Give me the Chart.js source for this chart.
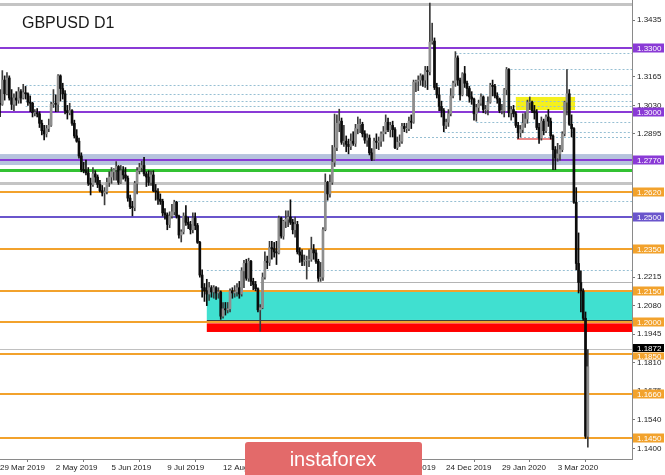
<!DOCTYPE html>
<html>
<head>
<meta charset="utf-8">
<title>GBPUSD D1</title>
<script src="https://cdn.jsdelivr.net/npm/chart.js@4"></script>
<style>
html,body{margin:0;padding:0;background:#fff;}
#wrap{width:665px;height:475px;}
</style>
</head>
<body>
<div id="wrap"><canvas id="myChart" width="665" height="475"></canvas></div>
<script>
'use strict';

// daily bars, 29 Mar 2019 .. 20 Mar 2020
let opens = [
  1.3040,1.3035,1.3150,1.3085,1.3160,1.3065,1.3035,1.3065,1.3055,1.3095,
  1.3065,1.3090,1.3085,1.3045,1.3040,1.2995,1.2995,1.2990,1.2945,1.2910,
  1.2895,1.2920,1.2935,1.3035,1.3040,1.3035,1.3170,1.3110,1.3085,1.3005,
  1.2995,1.3005,1.2945,1.2885,1.2860,1.2790,1.2725,1.2720,1.2710,1.2660,
  1.2655,1.2705,1.2690,1.2655,1.2625,1.2615,1.2620,1.2665,1.2690,1.2715,
  1.2725,1.2740,1.2665,1.2720,1.2700,1.2685,1.2590,1.2550,1.2545,1.2660,
  1.2720,1.2735,1.2745,1.2705,1.2690,1.2665,1.2700,1.2625,1.2620,1.2585,
  1.2575,1.2520,1.2510,1.2465,1.2505,1.2525,1.2570,1.2505,1.2415,1.2430,
  1.2505,1.2475,1.2465,1.2440,1.2495,1.2460,1.2380,1.2225,1.2165,1.2150,
  1.2135,1.2165,1.2145,1.2165,1.2140,1.2145,1.2030,1.2065,1.2060,1.2065,
  1.2150,1.2140,1.2145,1.2165,1.2135,1.2245,1.2280,1.2210,1.2290,1.2195,
  1.2180,1.2160,1.2060,1.2070,1.2215,1.2290,1.2285,1.2355,1.2350,1.2335,
  1.2330,1.2495,1.2410,1.2480,1.2490,1.2500,1.2475,1.2440,1.2465,1.2335,
  1.2320,1.2290,1.2295,1.2295,1.2300,1.2345,1.2330,1.2290,1.2210,1.2215,
  1.2440,1.2665,1.2610,1.2665,1.2760,1.2830,1.2945,1.2955,1.2855,1.2860,
  1.2845,1.2835,1.2860,1.2850,1.2920,1.2940,1.2940,1.2895,1.2865,1.2875,
  1.2805,1.2775,1.2860,1.2855,1.2860,1.2895,1.2905,1.2950,1.2915,1.2935,
  1.2915,1.2830,1.2855,1.2860,1.2930,1.2920,1.2920,1.2955,1.2950,1.3140,
  1.3145,1.3150,1.3170,1.3150,1.3195,1.3190,1.3330,1.3335,1.3115,1.3080,
  1.3025,1.3005,1.2935,1.2950,1.2990,1.3075,1.3135,1.3255,1.3150,1.3080,
  1.3180,1.3135,1.3110,1.3070,1.3060,1.2990,1.3020,1.3040,1.3070,1.3010,
  1.3010,1.3045,1.3125,1.3120,1.3075,1.3060,1.3005,1.3005,1.3105,1.3200,
  1.2995,1.3010,1.2990,1.2935,1.2900,1.2915,1.2945,1.2965,1.3045,1.3045,
  1.3005,1.2995,1.2925,1.2875,1.2955,1.2910,1.2975,1.2955,1.2885,1.2820,
  1.2780,1.2800,1.2820,1.2895,1.3045,1.3085,1.2940,1.2920,1.2570,1.2280,
  1.2190,1.2150,1.2020,1.1460
];
let highs = [
  1.3105,1.3195,1.3170,1.3185,1.3170,1.3105,1.3085,1.3095,1.3115,1.3105,
  1.3130,1.3120,1.3090,1.3075,1.3045,1.3010,1.3015,1.3000,1.2960,1.2935,
  1.2935,1.2965,1.3045,1.3105,1.3080,1.3176,1.3175,1.3135,1.3100,1.3030,
  1.3040,1.3010,1.2960,1.2915,1.2875,1.2805,1.2760,1.2770,1.2735,1.2685,
  1.2735,1.2720,1.2700,1.2675,1.2650,1.2640,1.2685,1.2715,1.2735,1.2730,
  1.2763,1.2745,1.2745,1.2740,1.2735,1.2695,1.2605,1.2575,1.2670,1.2735,
  1.2755,1.2765,1.2783,1.2715,1.2720,1.2720,1.2720,1.2655,1.2635,1.2610,
  1.2585,1.2540,1.2520,1.2525,1.2560,1.2580,1.2575,1.2510,1.2440,1.2520,
  1.2555,1.2500,1.2480,1.2520,1.2520,1.2470,1.2385,1.2250,1.2185,1.2205,
  1.2190,1.2175,1.2175,1.2170,1.2165,1.2150,1.2095,1.2095,1.2095,1.2160,
  1.2165,1.2175,1.2185,1.2195,1.2260,1.2295,1.2300,1.2305,1.2295,1.2210,
  1.2195,1.2165,1.2085,1.2235,1.2335,1.2315,1.2385,1.2385,1.2380,1.2385,
  1.2505,1.2500,1.2485,1.2530,1.2530,1.2582,1.2490,1.2500,1.2480,1.2355,
  1.2345,1.2320,1.2315,1.2345,1.2405,1.2370,1.2345,1.2300,1.2285,1.2450,
  1.2705,1.2670,1.2700,1.2840,1.2989,1.2985,1.3012,1.2970,1.2935,1.2885,
  1.2870,1.2895,1.2905,1.2940,1.2975,1.2965,1.2950,1.2910,1.2895,1.2890,
  1.2825,1.2875,1.2895,1.2880,1.2905,1.2930,1.2985,1.2970,1.2950,1.2955,
  1.2925,1.2880,1.2890,1.2945,1.2945,1.2945,1.2975,1.2985,1.3150,1.3150,
  1.3170,1.3180,1.3175,1.3215,1.3215,1.3515,1.3420,1.3350,1.3135,1.3115,
  1.3050,1.3015,1.2965,1.3010,1.3110,1.3145,1.3285,1.3265,1.3160,1.3185,
  1.3215,1.3145,1.3120,1.3095,1.3065,1.3035,1.3055,1.3085,1.3075,1.3030,
  1.3070,1.3135,1.3150,1.3130,1.3090,1.3065,1.3035,1.3110,1.3210,1.3205,
  1.3025,1.3030,1.3000,1.2950,1.2935,1.2990,1.2995,1.3055,1.3070,1.3050,
  1.3030,1.3010,1.2945,1.2975,1.2965,1.2985,1.3010,1.2970,1.2890,1.2835,
  1.2850,1.2840,1.2905,1.3050,1.3200,1.3105,1.2985,1.2925,1.2640,1.2425,
  1.2245,1.2160,1.2050,1.1872
];
let lows = [
  1.2977,1.3030,1.3055,1.3080,1.3055,1.3010,1.3005,1.3030,1.3040,1.3040,
  1.3060,1.3060,1.3030,1.3000,1.2975,1.2980,1.2975,1.2925,1.2890,1.2866,
  1.2880,1.2905,1.2930,1.3020,1.3000,1.3000,1.3050,1.3060,1.2990,1.2965,
  1.2985,1.2935,1.2875,1.2855,1.2780,1.2715,1.2710,1.2700,1.2650,1.2605,
  1.2645,1.2665,1.2640,1.2620,1.2600,1.2558,1.2610,1.2645,1.2660,1.2675,
  1.2675,1.2655,1.2660,1.2680,1.2670,1.2575,1.2540,1.2506,1.2530,1.2610,
  1.2705,1.2715,1.2695,1.2645,1.2650,1.2650,1.2620,1.2580,1.2560,1.2560,
  1.2505,1.2490,1.2440,1.2450,1.2495,1.2510,1.2495,1.2400,1.2382,1.2420,
  1.2460,1.2445,1.2420,1.2425,1.2440,1.2375,1.2215,1.2120,1.2100,1.2080,
  1.2105,1.2120,1.2115,1.2110,1.2115,1.2015,1.2020,1.2035,1.2045,1.2050,
  1.2115,1.2120,1.2125,1.2115,1.2125,1.2165,1.2200,1.2195,1.2175,1.2155,
  1.2150,1.2050,1.1959,1.2065,1.2205,1.2255,1.2270,1.2300,1.2310,1.2275,
  1.2325,1.2400,1.2395,1.2450,1.2455,1.2465,1.2420,1.2405,1.2325,1.2285,
  1.2270,1.2270,1.2206,1.2265,1.2290,1.2300,1.2280,1.2195,1.2195,1.2200,
  1.2435,1.2580,1.2595,1.2655,1.2740,1.2815,1.2905,1.2845,1.2835,1.2810,
  1.2800,1.2820,1.2840,1.2835,1.2895,1.2900,1.2880,1.2850,1.2835,1.2795,
  1.2768,1.2770,1.2825,1.2820,1.2835,1.2860,1.2895,1.2905,1.2880,1.2880,
  1.2825,1.2820,1.2835,1.2850,1.2905,1.2900,1.2910,1.2920,1.2945,1.3095,
  1.3100,1.3125,1.3120,1.3115,1.3105,1.3175,1.3320,1.3105,1.3065,1.3005,
  1.2975,1.2905,1.2920,1.2930,1.2980,1.3065,1.3120,1.3125,1.3055,1.3075,
  1.3115,1.3075,1.3045,1.3035,1.2960,1.2955,1.3000,1.3030,1.2995,1.2990,
  1.2985,1.3040,1.3075,1.3065,1.3040,1.2995,1.2990,1.2975,1.3080,1.2975,
  1.2960,1.2975,1.2925,1.2873,1.2880,1.2900,1.2925,1.2945,1.3010,1.2995,
  1.2965,1.2915,1.2850,1.2865,1.2890,1.2900,1.2930,1.2870,1.2725,1.2725,
  1.2765,1.2770,1.2810,1.2885,1.2985,1.2935,1.2880,1.2565,1.2250,1.2140,
  1.2050,1.2010,1.1450,1.1409
];
let closes = [
  1.3035,1.3150,1.3085,1.3160,1.3065,1.3035,1.3065,1.3055,1.3095,1.3065,
  1.3090,1.3085,1.3045,1.3040,1.2995,1.2995,1.2990,1.2945,1.2910,1.2895,
  1.2920,1.2935,1.3035,1.3040,1.3035,1.3170,1.3110,1.3085,1.3005,1.2995,
  1.3005,1.2945,1.2885,1.2860,1.2790,1.2725,1.2720,1.2710,1.2660,1.2655,
  1.2705,1.2690,1.2655,1.2625,1.2615,1.2620,1.2665,1.2690,1.2715,1.2725,
  1.2740,1.2665,1.2720,1.2700,1.2685,1.2590,1.2550,1.2545,1.2660,1.2720,
  1.2735,1.2745,1.2705,1.2690,1.2665,1.2700,1.2625,1.2620,1.2585,1.2575,
  1.2520,1.2510,1.2465,1.2505,1.2525,1.2570,1.2505,1.2415,1.2430,1.2505,
  1.2475,1.2465,1.2440,1.2495,1.2460,1.2380,1.2225,1.2165,1.2150,1.2135,
  1.2165,1.2145,1.2165,1.2140,1.2145,1.2030,1.2065,1.2060,1.2065,1.2150,
  1.2140,1.2145,1.2165,1.2135,1.2245,1.2280,1.2210,1.2290,1.2195,1.2180,
  1.2160,1.2060,1.2070,1.2215,1.2290,1.2285,1.2355,1.2350,1.2335,1.2330,
  1.2495,1.2410,1.2480,1.2490,1.2500,1.2475,1.2440,1.2465,1.2335,1.2320,
  1.2290,1.2295,1.2295,1.2300,1.2345,1.2330,1.2290,1.2210,1.2215,1.2440,
  1.2665,1.2610,1.2665,1.2760,1.2830,1.2945,1.2955,1.2855,1.2860,1.2845,
  1.2835,1.2860,1.2850,1.2920,1.2940,1.2940,1.2895,1.2865,1.2875,1.2805,
  1.2775,1.2860,1.2855,1.2860,1.2895,1.2905,1.2950,1.2915,1.2935,1.2915,
  1.2830,1.2855,1.2860,1.2930,1.2920,1.2920,1.2955,1.2950,1.3140,1.3145,
  1.3150,1.3170,1.3150,1.3195,1.3190,1.3330,1.3335,1.3115,1.3080,1.3025,
  1.3005,1.2935,1.2950,1.2990,1.3075,1.3135,1.3255,1.3150,1.3080,1.3180,
  1.3135,1.3110,1.3070,1.3060,1.2990,1.3020,1.3040,1.3070,1.3010,1.3010,
  1.3045,1.3125,1.3120,1.3075,1.3060,1.3005,1.3005,1.3105,1.3200,1.2995,
  1.3010,1.2990,1.2935,1.2900,1.2915,1.2945,1.2965,1.3045,1.3045,1.3005,
  1.2995,1.2925,1.2875,1.2955,1.2910,1.2975,1.2955,1.2885,1.2820,1.2780,
  1.2800,1.2820,1.2895,1.3045,1.3085,1.2940,1.2920,1.2570,1.2280,1.2190,
  1.2150,1.2020,1.1460,1.1790
];

let date_ticks = ['29 Mar 2019','2 May 2019','5 Jun 2019','9 Jul 2019','12 Aug 2019','13 Sep 2019',
  '17 Oct 2019','20 Nov 2019','24 Dec 2019','29 Jan 2020','3 Mar 2020'];
let bars_per_tick = 24;
let n_slots = 273;

let price_ticks = [1.3435,1.3300,1.3165,1.3030,1.2895,1.2760,1.2625,1.2490,1.2355,1.2215,
  1.2080,1.1945,1.1810,1.1675,1.1540,1.1400];
let price_min = 1.13524;
let price_max = 1.35299;

// levels marked on the chart
let purple_levels = [1.3300, 1.3000, 1.2770];
let blue_levels = [1.2500];
let orange_levels = [1.2620, 1.2350, 1.2150, 1.2000, 1.1850, 1.1660, 1.1450];
let bid_price = 1.1872;
let top_gray = 1.3512;
let green_level = 1.2723;
let gray_level = 1.2662;
let sep_low_level = 1.2190;   // starts at bar 112
let steel_band = [1.2747, 1.2799];
let cyan_zone = [1.2012, 1.2150];
let red_zone = [1.1955, 1.1996];
let zone_start = 89;
let yellow_box = {from: 222, to: 247.5, lo: 1.3008, hi: 1.3070};
let salmon_line = {from: 222.5, to: 237.5, price: 1.2870};
let dotted_levels = [1.3510, 1.3278, 1.3203, 1.3127, 1.3084, 1.3051, 1.3027, 1.2951, 1.2904, 1.2880, 1.2576, 1.2249];
let dotted_start = [185, 196, 218, 11, 11, 11, 11, 205, 191, 175.6, 75, 89];

let slot_labels = [];
for (let i=0;i<n_slots;i++){
  slot_labels.push(i);
}

let wick_data = [];
let body_data = [];
let wick_colors = [];
let body_colors = [];
for (let i=0;i<closes.length;i++){
  wick_data.push([lows[i], highs[i]]);
  let lo = Math.min(opens[i], closes[i]);
  let hi = Math.max(opens[i], closes[i]);
  if (hi - lo < 0.0002){ lo -= 0.0001; hi += 0.0001; }
  body_data.push([lo, hi]);
  let up = closes[i] >= opens[i];
  wick_colors.push(up ? '#3c3c3c' : '#0c0c0c');
  body_colors.push(up ? '#8e8e8e' : '#0c0c0c');
}

function hline(ctx, chart, price, from_idx, to_idx, color, width, dash){
  let area = chart.chartArea;
  let y = chart.scales.y.getPixelForValue(price);
  y = width % 2 ? Math.round(y) + 0.5 : Math.round(y);
  let x0 = from_idx == null ? area.left : chart.scales.x.getPixelForValue(from_idx);
  let x1 = to_idx == null ? area.right : chart.scales.x.getPixelForValue(to_idx);
  ctx.save();
  ctx.strokeStyle = color;
  ctx.lineWidth = width;
  ctx.setLineDash(dash || []);
  ctx.beginPath();
  ctx.moveTo(x0, y);
  ctx.lineTo(x1, y);
  ctx.stroke();
  ctx.restore();
}

function zone(ctx, chart, lo, hi, from_idx, to_idx, color){
  let area = chart.chartArea;
  let y0 = chart.scales.y.getPixelForValue(hi);
  let y1 = chart.scales.y.getPixelForValue(lo);
  let x0 = from_idx == null ? area.left : chart.scales.x.getPixelForValue(from_idx);
  let x1 = to_idx == null ? area.right : chart.scales.x.getPixelForValue(to_idx);
  ctx.fillStyle = color;
  ctx.fillRect(x0, y0, x1 - x0, y1 - y0);
}

function price_box(ctx, chart, price, bg, h, shift){
  let y = Math.round(chart.scales.y.getPixelForValue(price)) + (shift || 0);
  let x = chart.chartArea.right + 1;
  ctx.fillStyle = bg;
  ctx.fillRect(x, y - h / 2, 31, h);
  ctx.fillStyle = '#ffffff';
  ctx.font = '8px "Liberation Sans"';
  ctx.textBaseline = 'middle';
  ctx.textAlign = 'left';
  ctx.fillText(price.toFixed(4), x + 4, y + 0.5);
}

let levels_plugin = {
  id: 'levels',
  beforeDatasetsDraw(chart){
    let ctx = chart.ctx;
    let area = chart.chartArea;
    ctx.save();
    ctx.beginPath();
    ctx.rect(area.left, area.top, area.right - area.left, area.bottom - area.top);
    ctx.clip();

    zone(ctx, chart, steel_band[0], steel_band[1], null, null, '#b6c3dd');
    zone(ctx, chart, cyan_zone[0], cyan_zone[1], zone_start, null, '#40e0d0');
    zone(ctx, chart, red_zone[0], red_zone[1], zone_start, null, '#ff0000');
    zone(ctx, chart, yellow_box.lo, yellow_box.hi, yellow_box.from, yellow_box.to, '#f5f01c');

    for (let i=0;i<dotted_levels.length;i++){
      hline(ctx, chart, dotted_levels[i], dotted_start[i], null, '#96bfd3', 1, [2, 2]);
    }
    hline(ctx, chart, top_gray, null, null, '#c4c4c4', 3);
    hline(ctx, chart, gray_level, null, null, '#c4c4c4', 3);
    hline(ctx, chart, green_level, null, null, '#33c233', 3);
    hline(ctx, chart, sep_low_level, 112, null, '#b4b4b4', 1);
    hline(ctx, chart, cyan_zone[0], zone_start, null, '#3c3c3c', 1);
    hline(ctx, chart, bid_price, null, null, '#c0c0c0', 1);
    hline(ctx, chart, salmon_line.price, salmon_line.from, salmon_line.to, '#ee8a8a', 2);
    for (let p of purple_levels){ hline(ctx, chart, p, null, null, '#8a3ad6', 2); }
    for (let p of blue_levels){ hline(ctx, chart, p, null, null, '#6a55cc', 2); }
    for (let p of orange_levels){ hline(ctx, chart, p, null, null, '#f2a22c', 2); }
    ctx.restore();
  },
  afterDraw(chart){
    let ctx = chart.ctx;
    ctx.save();
    for (let p of purple_levels){ price_box(ctx, chart, p, '#8a3ad6', 9); }
    for (let p of blue_levels){ price_box(ctx, chart, p, '#6a55cc', 9); }
    price_box(ctx, chart, bid_price, '#000000', 8, -1);
    for (let p of orange_levels){
      // the 1.1850 box sits right under the bid box
      let near_bid = Math.abs(p - bid_price) < 0.004;
      price_box(ctx, chart, p, '#f2a22c', near_bid ? 7 : 9, near_bid ? 2 : 0);
    }

    ctx.fillStyle = '#1a1a1a';
    ctx.font = '16px "Liberation Sans"';
    ctx.textAlign = 'left';
    ctx.textBaseline = 'alphabetic';
    ctx.fillText('GBPUSD D1', 22, 28);

    ctx.fillStyle = '#e36a6a';
    ctx.beginPath();
    ctx.roundRect(245, 442, 177, 36, 3);
    ctx.fill();
    ctx.fillStyle = '#ffffff';
    ctx.font = '20px "Liberation Sans"';
    ctx.textAlign = 'center';
    ctx.textBaseline = 'middle';
    ctx.fillText('instaforex', 333, 460);
    ctx.restore();
  }
};

Chart.defaults.font.family = '"Liberation Sans", Arial, sans-serif';

function draw_chart(){
  let ctx = document.getElementById('myChart').getContext('2d');
  let myChart = new Chart(ctx, {
    type: 'bar',
    data: {
      labels: slot_labels,
      datasets: [{
        label: 'wick',
        data: wick_data,
        backgroundColor: wick_colors,
        barThickness: 1,
        grouped: false,
        order: 2
      }, {
        label: 'body',
        data: body_data,
        backgroundColor: body_colors,
        barThickness: 2,
        grouped: false,
        order: 1
      }]
    },
    options: {
      responsive: false,
      animation: false,
      layout: {padding: 0},
      plugins: {
        legend: {display: false},
        tooltip: {enabled: false}
      },
      scales: {
        x: {
          type: 'category',
          offset: false,
          grid: {drawOnChartArea: false, drawTicks: true, tickLength: 3, color: '#777'},
          border: {display: true, color: '#8a8a8a'},
          ticks: {
            autoSkip: false,
            maxRotation: 0,
            align: 'start',
            padding: 1,
            color: '#222',
            font: {size: 8},
            callback: function(v){ return v % bars_per_tick === 0 ? date_ticks[v / bars_per_tick] : ''; }
          },
          afterBuildTicks: function(s){
            s.ticks = s.ticks.filter(t => t.value % bars_per_tick === 0 && t.value / bars_per_tick < date_ticks.length);
          },
          afterFit: function(s){
            s.height = 16;
            s.paddingLeft = 0;
            s.paddingRight = 0;
          }
        },
        y: {
          position: 'right',
          min: price_min,
          max: price_max,
          grid: {drawOnChartArea: false, drawTicks: true, tickLength: 3, color: '#777'},
          border: {display: true, color: '#8a8a8a'},
          ticks: {
            padding: 2,
            color: '#222',
            font: {size: 8},
            callback: function(v){ return Number(v).toFixed(4); }
          },
          afterBuildTicks: function(s){
            s.ticks = price_ticks.map(v => ({value: v}));
          },
          afterFit: function(s){
            s.width = 33;
            s.paddingTop = 0;
            s.paddingBottom = 0;
          }
        }
      }
    },
    plugins: [levels_plugin]
  });
}

draw_chart();
</script>
</body>
</html>
